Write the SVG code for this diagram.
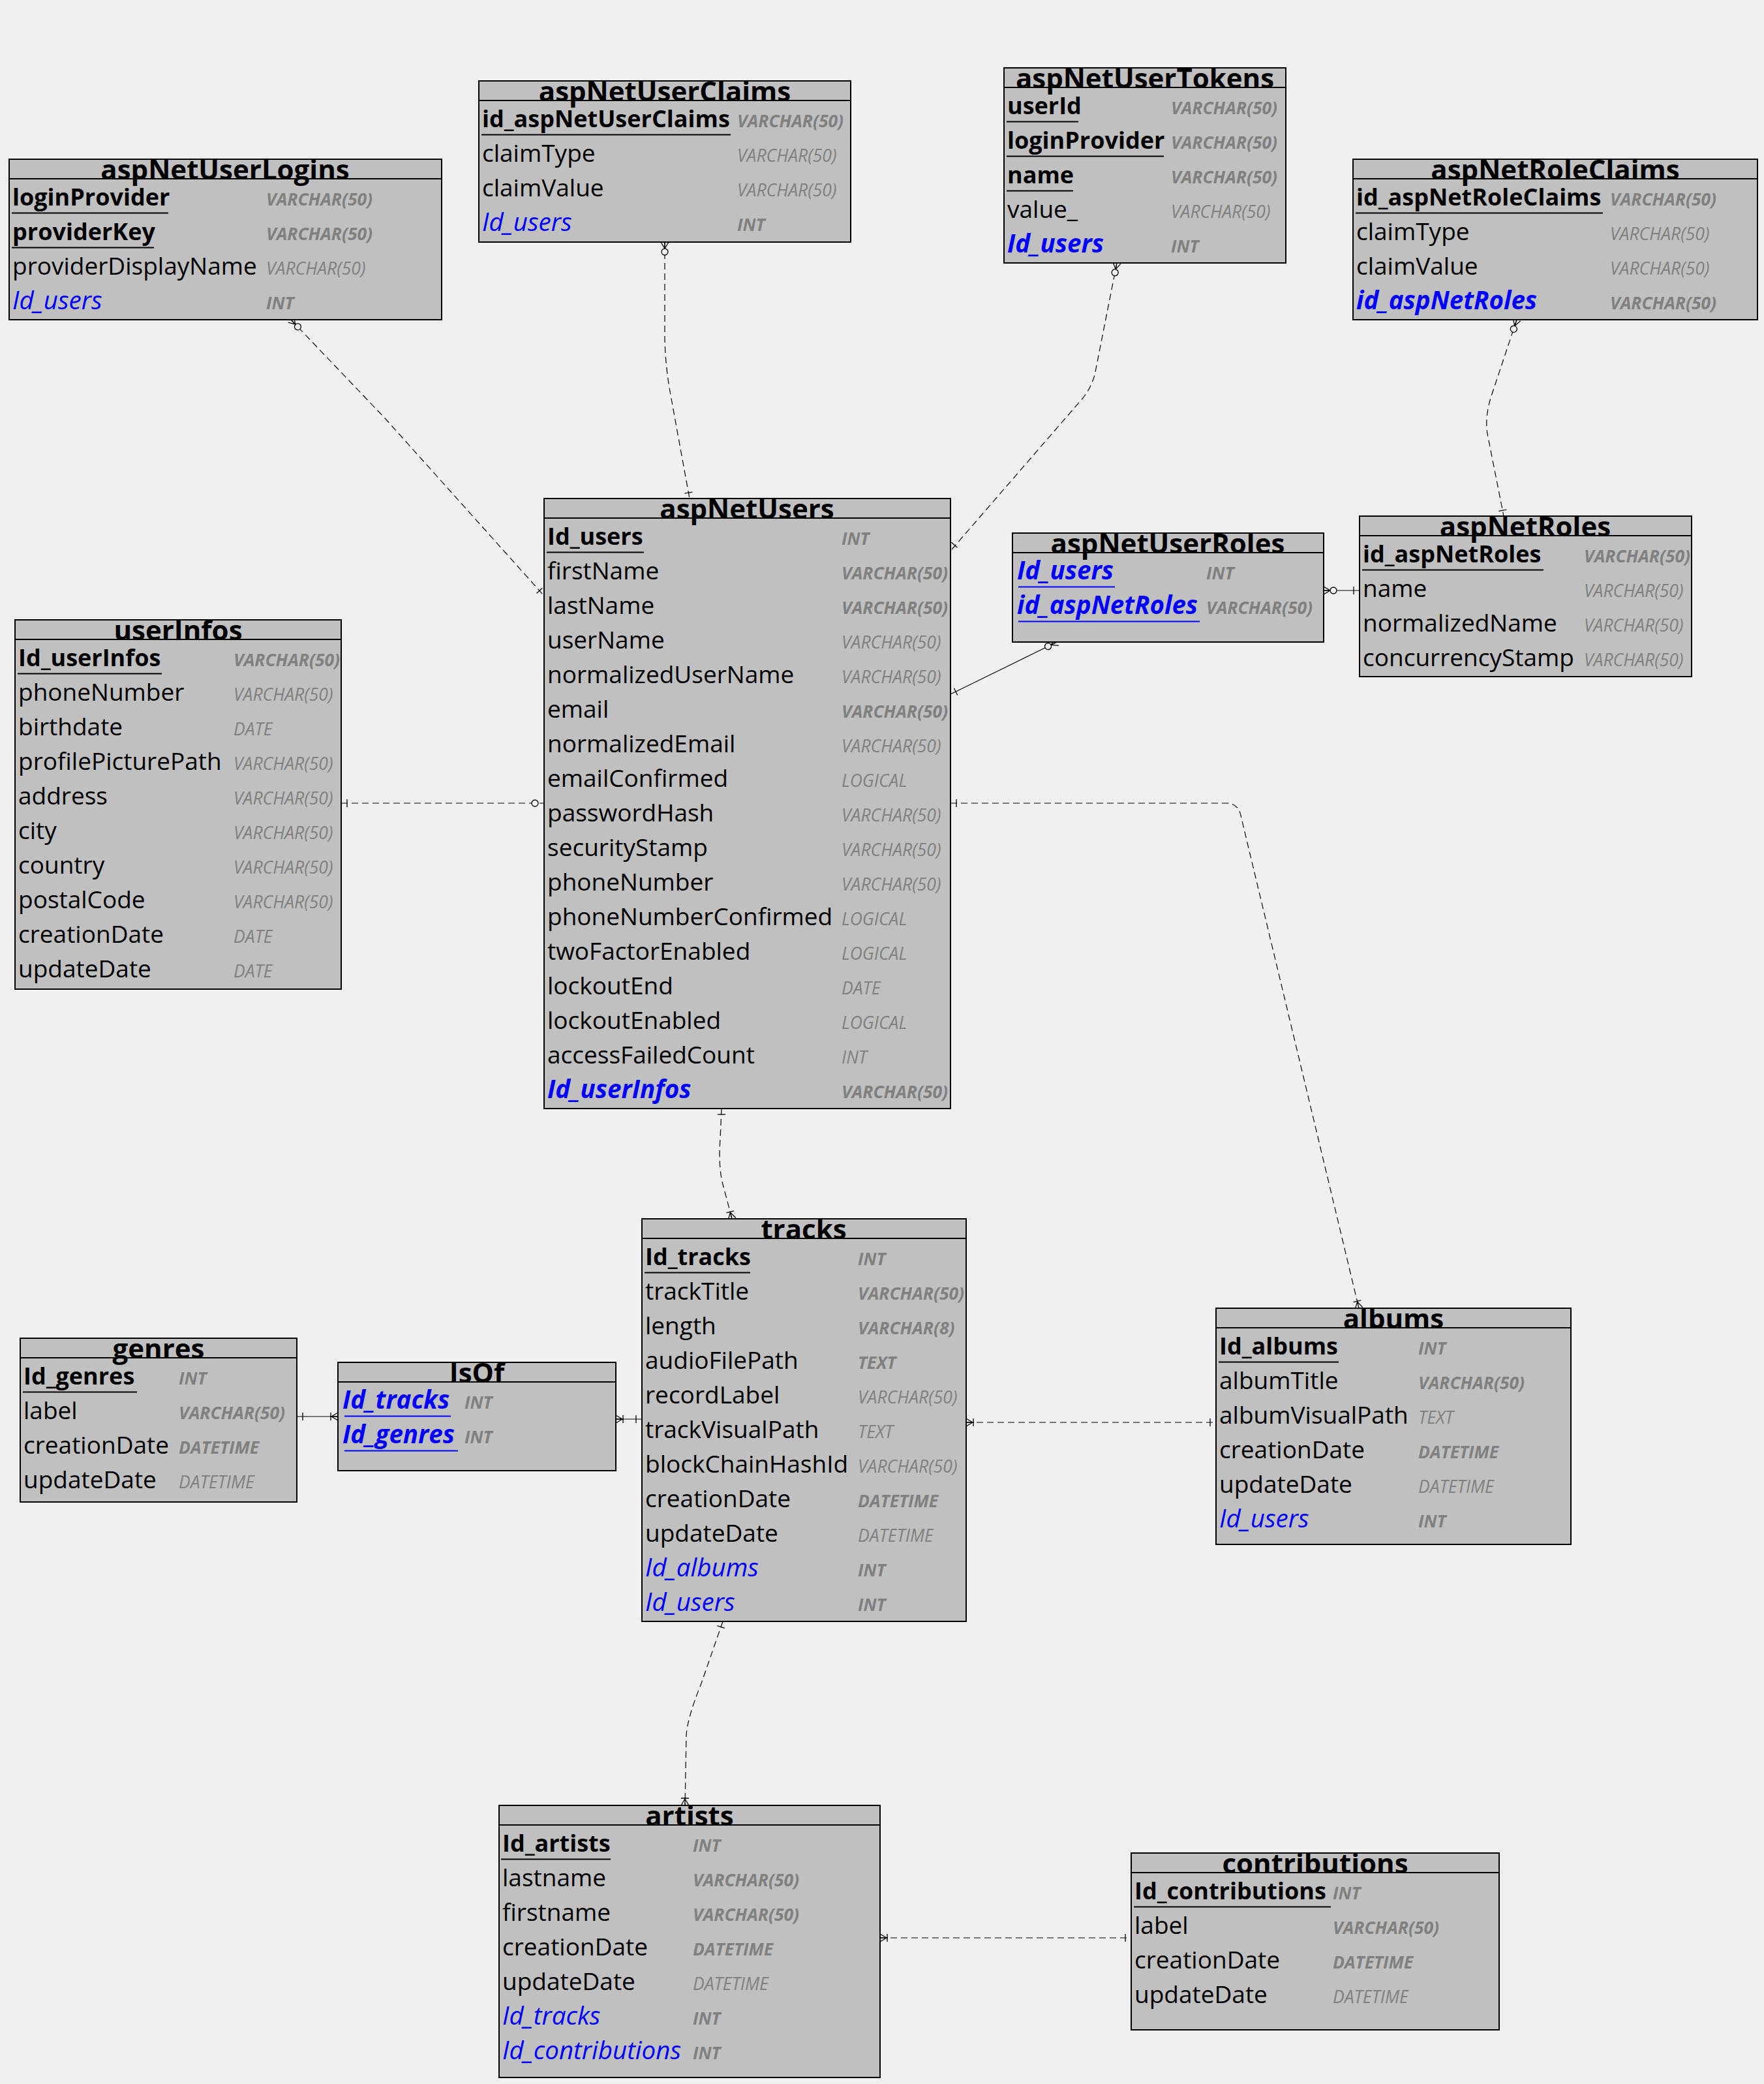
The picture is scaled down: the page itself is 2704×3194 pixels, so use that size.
<svg xmlns="http://www.w3.org/2000/svg" xmlns:xlink="http://www.w3.org/1999/xlink" width="2704" height="3194" viewBox="0 0 2704 3194">
<style>
  text { font-family: "Open Sans", "Noto Sans", "Liberation Sans", sans-serif; }
  .ttl { font-size: 42px; font-weight: 700; text-anchor: middle; fill: #000; }
  .n  { font-size: 37px; fill: #000; }
  .k  { font-size: 36px; font-weight: 700; fill: #000; }
  .f  { font-size: 38.5px; font-style: italic; fill: #0000ff; }
  .fb { font-size: 38.5px; font-style: italic; font-weight: 700; fill: #0000ff; }
  .t  { font-size: 26.5px; font-style: italic; fill: #808080; }
  .tb { font-size: 26.5px; font-style: italic; font-weight: 700; fill: #808080; }
  .box { fill: #c0c0c0; stroke: #000; stroke-width: 2; }
  .hd { stroke: #000; stroke-width: 2; }
  .ul { stroke: #000; stroke-width: 2; }
  .ulb { stroke: #0000ff; stroke-width: 2; }
  .rel { fill: none; stroke: #000; stroke-width: 1.2; stroke-dasharray: 10 6; }
  .solid { stroke-dasharray: none; }
  .sym { stroke: #000; stroke-width: 1.3; }
</style>
<defs>
  <!-- cardinality ends, drawn with the entity edge at the origin and the line along +x -->
  <g id="one"><path d="M9,-6 V6" fill="none"/></g>
  <g id="oneMany"><path d="M0,-6 L10,0 M0,6 L10,0 M0,0 H12 M11,-6 V6" fill="none"/></g>
  <g id="zeroMany"><path d="M0,-6 L10,0 M0,6 L10,0 M0,0 H10" fill="none"/><circle cx="15" cy="0" r="5" fill="#f0f0f0"/></g>
  <g id="zero"><circle cx="14" cy="0" r="5" fill="#f0f0f0"/></g>
</defs>
<rect width="2704" height="3194" fill="#f0f0f0"/>

<!-- relations -->
<g id="relations">
  <path class="rel" d="M446,490 L591,642 L833,912"/>
  <path class="rel" d="M1019,371 L1019,520 Q1020,560 1027,600 L1057,764"/>
  <path class="rel" d="M1712,403 L1678,575 Q1672,595 1660,610 L1459,842"/>
  <path class="rel" d="M2325,490 L2285,610 Q2276,640 2280,665 L2305,791"/>
  <path class="rel solid" d="M2029,905 L2084,905"/>
  <path class="rel solid" d="M1620,984 L1457,1064"/>
  <path class="rel" d="M523,1231 L834,1231"/>
  <path class="rel" d="M1457,1231 L1880,1231 Q1898,1231 1902,1250 L2083,2005"/>
  <path class="rel" d="M1106,1699 L1104,1745 Q1101,1790 1108,1815 L1122,1868"/>
  <path class="rel" d="M1481,2180 L1864,2180"/>
  <path class="rel solid" d="M455,2171 L518,2171"/>
  <path class="rel solid" d="M944,2175 L984,2175"/>
  <path class="rel" d="M1108,2485 L1075,2580 Q1053,2635 1052,2660 L1050,2767"/>
  <path class="rel" d="M1349,2970 L1734,2970"/>

  <use class="sym" href="#zeroMany" transform="translate(446,490) rotate(46)"/>
  <use class="sym" href="#one" transform="translate(833,912) rotate(228)"/>
  <use class="sym" href="#zeroMany" transform="translate(1019,371) rotate(90)"/>
  <use class="sym" href="#one" transform="translate(1057,764) rotate(-100)"/>
  <use class="sym" href="#zeroMany" transform="translate(1712,403) rotate(101)"/>
  <use class="sym" href="#one" transform="translate(1457,842) rotate(-49)"/>
  <use class="sym" href="#zeroMany" transform="translate(2325,490) rotate(108)"/>
  <use class="sym" href="#one" transform="translate(2305,791) rotate(-101)"/>
  <use class="sym" href="#zeroMany" transform="translate(2029,905)"/>
  <use class="sym" href="#one" transform="translate(2084,905) rotate(180)"/>
  <use class="sym" href="#zeroMany" transform="translate(1620,984) rotate(154)"/>
  <use class="sym" href="#one" transform="translate(1457,1064) rotate(-26)"/>
  <use class="sym" href="#one" transform="translate(523,1231)"/>
  <use class="sym" href="#zero" transform="translate(834,1231) rotate(180)"/>
  <use class="sym" href="#one" transform="translate(1457,1231)"/>
  <use class="sym" href="#oneMany" transform="translate(2083,2005) rotate(-103.5)"/>
  <use class="sym" href="#one" transform="translate(1106,1699) rotate(90)"/>
  <use class="sym" href="#oneMany" transform="translate(1122,1868) rotate(-105)"/>
  <use class="sym" href="#oneMany" transform="translate(1481,2180)"/>
  <use class="sym" href="#one" transform="translate(1864,2180) rotate(180)"/>
  <use class="sym" href="#one" transform="translate(455,2171)"/>
  <use class="sym" href="#oneMany" transform="translate(518,2171) rotate(180)"/>
  <use class="sym" href="#oneMany" transform="translate(944,2175)"/>
  <use class="sym" href="#one" transform="translate(984,2175) rotate(180)"/>
  <use class="sym" href="#one" transform="translate(1108,2485) rotate(109)"/>
  <use class="sym" href="#oneMany" transform="translate(1050,2767) rotate(-90)"/>
  <use class="sym" href="#oneMany" transform="translate(1349,2970)"/>
  <use class="sym" href="#one" transform="translate(1734,2970) rotate(180)"/>
</g>

<!-- aspNetUserClaims -->
<g id="aspNetUserClaims">
  <rect class="box" x="734" y="124" width="570" height="247"/>
  <line class="hd" x1="734" y1="154" x2="1304" y2="154"/>
  <text class="ttl" x="1019" y="155">aspNetUserClaims</text>
  <text class="k" x="739" y="195">id_aspNetUserClaims</text><text class="tb" x="1130" y="195">VARCHAR(50)</text>
  <line class="ul" x1="738" y1="206.5" x2="1120" y2="206.5"/>
  <text class="n" x="739" y="248">claimType</text><text class="t" x="1130" y="248">VARCHAR(50)</text>
  <text class="n" x="739" y="301">claimValue</text><text class="t" x="1130" y="301">VARCHAR(50)</text>
  <text class="f" x="739" y="354">Id_users</text><text class="tb" x="1130" y="354">INT</text>
</g>

<!-- aspNetUserTokens -->
<g id="aspNetUserTokens">
  <rect class="box" x="1539" y="104" width="432" height="299"/>
  <line class="hd" x1="1539" y1="134" x2="1971" y2="134"/>
  <text class="ttl" x="1755" y="135">aspNetUserTokens</text>
  <text class="k" x="1544" y="175">userId</text><text class="tb" x="1795" y="175">VARCHAR(50)</text>
  <line class="ul" x1="1543" y1="186.5" x2="1653" y2="186.5"/>
  <text class="k" x="1544" y="228">loginProvider</text><text class="tb" x="1795" y="228">VARCHAR(50)</text>
  <line class="ul" x1="1543" y1="239.5" x2="1784" y2="239.5"/>
  <text class="k" x="1544" y="281">name</text><text class="tb" x="1795" y="281">VARCHAR(50)</text>
  <line class="ul" x1="1543" y1="292.5" x2="1645" y2="292.5"/>
  <text class="n" x="1544" y="334">value_</text><text class="t" x="1795" y="334">VARCHAR(50)</text>
  <text class="fb" x="1544" y="387">Id_users</text><text class="tb" x="1795" y="387">INT</text>
</g>

<!-- aspNetUserLogins -->
<g id="aspNetUserLogins">
  <rect class="box" x="14" y="244" width="663" height="246"/>
  <line class="hd" x1="14" y1="274" x2="677" y2="274"/>
  <text class="ttl" x="345" y="275">aspNetUserLogins</text>
  <text class="k" x="19" y="315">loginProvider</text><text class="tb" x="408" y="315">VARCHAR(50)</text>
  <line class="ul" x1="18" y1="326.5" x2="258" y2="326.5"/>
  <text class="k" x="19" y="368">providerKey</text><text class="tb" x="408" y="368">VARCHAR(50)</text>
  <line class="ul" x1="18" y1="379.5" x2="236" y2="379.5"/>
  <text class="n" x="19" y="421">providerDisplayName</text><text class="t" x="408" y="421">VARCHAR(50)</text>
  <text class="f" x="19" y="474">Id_users</text><text class="tb" x="408" y="474">INT</text>
</g>

<!-- aspNetRoleClaims -->
<g id="aspNetRoleClaims">
  <rect class="box" x="2074" y="244" width="620" height="246"/>
  <line class="hd" x1="2074" y1="274" x2="2694" y2="274"/>
  <text class="ttl" x="2384" y="275">aspNetRoleClaims</text>
  <text class="k" x="2079" y="315">id_aspNetRoleClaims</text><text class="tb" x="2468" y="315">VARCHAR(50)</text>
  <line class="ul" x1="2078" y1="326.5" x2="2457" y2="326.5"/>
  <text class="n" x="2079" y="368">claimType</text><text class="t" x="2468" y="368">VARCHAR(50)</text>
  <text class="n" x="2079" y="421">claimValue</text><text class="t" x="2468" y="421">VARCHAR(50)</text>
  <text class="fb" x="2079" y="474">id_aspNetRoles</text><text class="tb" x="2468" y="474">VARCHAR(50)</text>
</g>

<!-- aspNetUsers -->
<g id="aspNetUsers">
  <rect class="box" x="834" y="764" width="623" height="935"/>
  <line class="hd" x1="834" y1="794" x2="1457" y2="794"/>
  <text class="ttl" x="1145" y="795">aspNetUsers</text>
  <text class="k" x="839" y="835">Id_users</text><text class="tb" x="1290" y="835">INT</text>
  <line class="ul" x1="838" y1="846.5" x2="987" y2="846.5"/>
  <text class="n" x="839" y="888">firstName</text><text class="tb" x="1290" y="888">VARCHAR(50)</text>
  <text class="n" x="839" y="941">lastName</text><text class="tb" x="1290" y="941">VARCHAR(50)</text>
  <text class="n" x="839" y="994">userName</text><text class="t" x="1290" y="994">VARCHAR(50)</text>
  <text class="n" x="839" y="1047">normalizedUserName</text><text class="t" x="1290" y="1047">VARCHAR(50)</text>
  <text class="n" x="839" y="1100">email</text><text class="tb" x="1290" y="1100">VARCHAR(50)</text>
  <text class="n" x="839" y="1153">normalizedEmail</text><text class="t" x="1290" y="1153">VARCHAR(50)</text>
  <text class="n" x="839" y="1206">emailConfirmed</text><text class="t" x="1290" y="1206">LOGICAL</text>
  <text class="n" x="839" y="1259">passwordHash</text><text class="t" x="1290" y="1259">VARCHAR(50)</text>
  <text class="n" x="839" y="1312">securityStamp</text><text class="t" x="1290" y="1312">VARCHAR(50)</text>
  <text class="n" x="839" y="1365">phoneNumber</text><text class="t" x="1290" y="1365">VARCHAR(50)</text>
  <text class="n" x="839" y="1418">phoneNumberConfirmed</text><text class="t" x="1290" y="1418">LOGICAL</text>
  <text class="n" x="839" y="1471">twoFactorEnabled</text><text class="t" x="1290" y="1471">LOGICAL</text>
  <text class="n" x="839" y="1524">lockoutEnd</text><text class="t" x="1290" y="1524">DATE</text>
  <text class="n" x="839" y="1577">lockoutEnabled</text><text class="t" x="1290" y="1577">LOGICAL</text>
  <text class="n" x="839" y="1630">accessFailedCount</text><text class="t" x="1290" y="1630">INT</text>
  <text class="fb" x="839" y="1683">Id_userInfos</text><text class="tb" x="1290" y="1683">VARCHAR(50)</text>
</g>

<!-- aspNetUserRoles -->
<g id="aspNetUserRoles">
  <rect class="box" x="1552" y="817" width="477" height="167"/>
  <line class="hd" x1="1552" y1="847" x2="2029" y2="847"/>
  <text class="ttl" x="1790" y="848">aspNetUserRoles</text>
  <text class="fb" x="1559" y="888">Id_users</text><text class="tb" x="1849" y="888">INT</text>
  <line class="ulb" x1="1561" y1="899.5" x2="1709" y2="899.5"/>
  <text class="fb" x="1559" y="941">id_aspNetRoles</text><text class="tb" x="1849" y="941">VARCHAR(50)</text>
  <line class="ulb" x1="1561" y1="952.5" x2="1839" y2="952.5"/>
</g>

<!-- aspNetRoles -->
<g id="aspNetRoles">
  <rect class="box" x="2084" y="791" width="509" height="246"/>
  <line class="hd" x1="2084" y1="821" x2="2593" y2="821"/>
  <text class="ttl" x="2338" y="822">aspNetRoles</text>
  <text class="k" x="2089" y="862">id_aspNetRoles</text><text class="tb" x="2428" y="862">VARCHAR(50)</text>
  <line class="ul" x1="2088" y1="873.5" x2="2366" y2="873.5"/>
  <text class="n" x="2089" y="915">name</text><text class="t" x="2428" y="915">VARCHAR(50)</text>
  <text class="n" x="2089" y="968">normalizedName</text><text class="t" x="2428" y="968">VARCHAR(50)</text>
  <text class="n" x="2089" y="1021">concurrencyStamp</text><text class="t" x="2428" y="1021">VARCHAR(50)</text>
</g>

<!-- userInfos -->
<g id="userInfos">
  <rect class="box" x="23" y="950" width="500" height="566"/>
  <line class="hd" x1="23" y1="980" x2="523" y2="980"/>
  <text class="ttl" x="273" y="981">userInfos</text>
  <text class="k" x="28" y="1021">Id_userInfos</text><text class="tb" x="358" y="1021">VARCHAR(50)</text>
  <line class="ul" x1="27" y1="1032.5" x2="248" y2="1032.5"/>
  <text class="n" x="28" y="1074">phoneNumber</text><text class="t" x="358" y="1074">VARCHAR(50)</text>
  <text class="n" x="28" y="1127">birthdate</text><text class="t" x="358" y="1127">DATE</text>
  <text class="n" x="28" y="1180">profilePicturePath</text><text class="t" x="358" y="1180">VARCHAR(50)</text>
  <text class="n" x="28" y="1233">address</text><text class="t" x="358" y="1233">VARCHAR(50)</text>
  <text class="n" x="28" y="1286">city</text><text class="t" x="358" y="1286">VARCHAR(50)</text>
  <text class="n" x="28" y="1339">country</text><text class="t" x="358" y="1339">VARCHAR(50)</text>
  <text class="n" x="28" y="1392">postalCode</text><text class="t" x="358" y="1392">VARCHAR(50)</text>
  <text class="n" x="28" y="1445">creationDate</text><text class="t" x="358" y="1445">DATE</text>
  <text class="n" x="28" y="1498">updateDate</text><text class="t" x="358" y="1498">DATE</text>
</g>

<!-- tracks -->
<g id="tracks">
  <rect class="box" x="984" y="1868" width="497" height="617"/>
  <line class="hd" x1="984" y1="1898" x2="1481" y2="1898"/>
  <text class="ttl" x="1232" y="1899">tracks</text>
  <text class="k" x="989" y="1939">Id_tracks</text><text class="tb" x="1315" y="1939">INT</text>
  <line class="ul" x1="988" y1="1950.5" x2="1150" y2="1950.5"/>
  <text class="n" x="989" y="1992">trackTitle</text><text class="tb" x="1315" y="1992">VARCHAR(50)</text>
  <text class="n" x="989" y="2045">length</text><text class="tb" x="1315" y="2045">VARCHAR(8)</text>
  <text class="n" x="989" y="2098">audioFilePath</text><text class="tb" x="1315" y="2098">TEXT</text>
  <text class="n" x="989" y="2151">recordLabel</text><text class="t" x="1315" y="2151">VARCHAR(50)</text>
  <text class="n" x="989" y="2204">trackVisualPath</text><text class="t" x="1315" y="2204">TEXT</text>
  <text class="n" x="989" y="2257">blockChainHashId</text><text class="t" x="1315" y="2257">VARCHAR(50)</text>
  <text class="n" x="989" y="2310">creationDate</text><text class="tb" x="1315" y="2310">DATETIME</text>
  <text class="n" x="989" y="2363">updateDate</text><text class="t" x="1315" y="2363">DATETIME</text>
  <text class="f" x="989" y="2416">Id_albums</text><text class="tb" x="1315" y="2416">INT</text>
  <text class="f" x="989" y="2469">Id_users</text><text class="tb" x="1315" y="2469">INT</text>
</g>

<!-- albums -->
<g id="albums">
  <rect class="box" x="1864" y="2005" width="544" height="362"/>
  <line class="hd" x1="1864" y1="2035" x2="2408" y2="2035"/>
  <text class="ttl" x="2136" y="2036">albums</text>
  <text class="k" x="1869" y="2076">Id_albums</text><text class="tb" x="2174" y="2076">INT</text>
  <line class="ul" x1="1868" y1="2087.5" x2="2052" y2="2087.5"/>
  <text class="n" x="1869" y="2129">albumTitle</text><text class="tb" x="2174" y="2129">VARCHAR(50)</text>
  <text class="n" x="1869" y="2182">albumVisualPath</text><text class="t" x="2174" y="2182">TEXT</text>
  <text class="n" x="1869" y="2235">creationDate</text><text class="tb" x="2174" y="2235">DATETIME</text>
  <text class="n" x="1869" y="2288">updateDate</text><text class="t" x="2174" y="2288">DATETIME</text>
  <text class="f" x="1869" y="2341">Id_users</text><text class="tb" x="2174" y="2341">INT</text>
</g>

<!-- genres -->
<g id="genres">
  <rect class="box" x="31" y="2051" width="424" height="251"/>
  <line class="hd" x1="31" y1="2081" x2="455" y2="2081"/>
  <text class="ttl" x="243" y="2082">genres</text>
  <text class="k" x="36" y="2122">Id_genres</text><text class="tb" x="274" y="2122">INT</text>
  <line class="ul" x1="35" y1="2133.5" x2="210" y2="2133.5"/>
  <text class="n" x="36" y="2175">label</text><text class="tb" x="274" y="2175">VARCHAR(50)</text>
  <text class="n" x="36" y="2228">creationDate</text><text class="tb" x="274" y="2228">DATETIME</text>
  <text class="n" x="36" y="2281">updateDate</text><text class="t" x="274" y="2281">DATETIME</text>
</g>

<!-- IsOf -->
<g id="IsOf">
  <rect class="box" x="518" y="2088" width="426" height="166"/>
  <line class="hd" x1="518" y1="2118" x2="944" y2="2118"/>
  <text class="ttl" x="731" y="2119">IsOf</text>
  <text class="fb" x="525" y="2159">Id_tracks</text><text class="tb" x="712" y="2159">INT</text>
  <line class="ulb" x1="528" y1="2170.5" x2="691" y2="2170.5"/>
  <text class="fb" x="525" y="2212">Id_genres</text><text class="tb" x="712" y="2212">INT</text>
  <line class="ulb" x1="528" y1="2223.5" x2="702" y2="2223.5"/>
</g>

<!-- artists -->
<g id="artists">
  <rect class="box" x="765" y="2767" width="584" height="417"/>
  <line class="hd" x1="765" y1="2797" x2="1349" y2="2797"/>
  <text class="ttl" x="1057" y="2798">artists</text>
  <text class="k" x="770" y="2838">Id_artists</text><text class="tb" x="1062" y="2838">INT</text>
  <line class="ul" x1="768" y1="2849.5" x2="936" y2="2849.5"/>
  <text class="n" x="770" y="2891">lastname</text><text class="tb" x="1062" y="2891">VARCHAR(50)</text>
  <text class="n" x="770" y="2944">firstname</text><text class="tb" x="1062" y="2944">VARCHAR(50)</text>
  <text class="n" x="770" y="2997">creationDate</text><text class="tb" x="1062" y="2997">DATETIME</text>
  <text class="n" x="770" y="3050">updateDate</text><text class="t" x="1062" y="3050">DATETIME</text>
  <text class="f" x="770" y="3103">Id_tracks</text><text class="tb" x="1062" y="3103">INT</text>
  <text class="f" x="770" y="3156">Id_contributions</text><text class="tb" x="1062" y="3156">INT</text>
</g>

<!-- contributions -->
<g id="contributions">
  <rect class="box" x="1734" y="2840" width="564" height="271"/>
  <line class="hd" x1="1734" y1="2870" x2="2298" y2="2870"/>
  <text class="ttl" x="2016" y="2871">contributions</text>
  <text class="k" x="1739" y="2911">Id_contributions</text><text class="tb" x="2043" y="2911">INT</text>
  <line class="ul" x1="1738" y1="2922.5" x2="2040" y2="2922.5"/>
  <text class="n" x="1739" y="2964">label</text><text class="tb" x="2043" y="2964">VARCHAR(50)</text>
  <text class="n" x="1739" y="3017">creationDate</text><text class="tb" x="2043" y="3017">DATETIME</text>
  <text class="n" x="1739" y="3070">updateDate</text><text class="t" x="2043" y="3070">DATETIME</text>
</g>
</svg>
